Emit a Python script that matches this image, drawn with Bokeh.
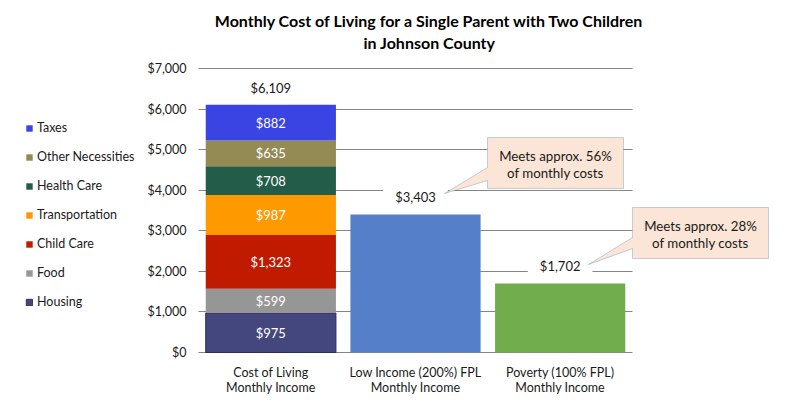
import numpy as np
from bokeh.plotting import figure
from bokeh.models import (ColumnDataSource, Range1d, NumeralTickFormatter, FixedTicker,
                          Legend, LegendItem, Label, PolyAnnotation)
from bokeh.core.properties import value
from bokeh.embed import file_html
from bokeh.resources import INLINE

# ---------------- data ----------------
categories = ["Cost of Living\nMonthly Income",
              "Low Income (200%) FPL\nMonthly Income",
              "Poverty (100% FPL)\nMonthly Income"]
cost_items = ["Housing", "Food", "Child Care", "Transportation",
              "Health Care", "Other Necessities", "Taxes"]
cost_values = [975, 599, 1323, 987, 708, 635, 882]
income_values = [3403, 1702]
callout_texts = [["Meets approx. 56%", "of monthly costs"],
                 ["Meets approx. 28%", "of monthly costs"]]
title_lines = ["Monthly Cost of Living for a Single Parent with Two Children",
               "in Johnson County"]
y_ticks = [0, 1000, 2000, 3000, 4000, 5000, 6000, 7000]

# ---------------- styles / layout ----------------
FONT = "Lato"
TXT = "#1a1a1a"
cost_colors = ["#44477D", "#969696", "#C01B00", "#FF9900", "#235C48", "#948A54", "#3A44E2"]
income_colors = ["#5580C9", "#72AD4D"]
GRID = "#868686"

W, H = 789, 408
CHART_L, CHART_R, CHART_T, CHART_B = 198, 632, 68, 352   # plotting area in page pixels
n = len(categories)
y_max = y_ticks[-1]
px_per_x = (CHART_R - CHART_L) / n
px_per_y = (CHART_B - CHART_T) / y_max


def dx(px):
    return (px - CHART_L) / px_per_x


def dy(py):
    return (CHART_B - py) / px_per_y


# frame covers the whole canvas; axes are pinned at the chart's edges
p = figure(x_range=Range1d(dx(0), dx(W)), y_range=Range1d(dy(H), dy(0)),
           width=W, height=H, output_backend="svg", toolbar_location=None,
           min_border=0)
p.outline_line_color = None
p.background_fill_color = "white"
p.border_fill_color = "white"

xpos = np.arange(n) + 0.5

# stacked cost bar
src = ColumnDataSource(dict(x=[xpos[0]], **{k: [v] for k, v in zip(cost_items, cost_values)}))
stack = p.vbar_stack(cost_items, x="x", width=0.9, source=src, fill_color=cost_colors,
                     line_color=cost_colors)
stack[0].glyph.line_color = "#2B2D5E"
for r in stack[1:]:
    r.glyph.line_color = None

# income bars
isrc = ColumnDataSource(dict(x=xpos[1:], top=income_values, color=income_colors))
p.vbar(x="x", top="top", width=0.9, fill_color="color", line_color=None, source=isrc)

# segment labels
vals = np.array(cost_values, dtype=float)
mids = np.cumsum(vals) - vals / 2
p.text(x=[xpos[0]] * len(cost_values), y=mids, text=[f"${v:,}" for v in cost_values],
       text_color="white", text_font=value(FONT), text_font_size="13px",
       text_align="center", text_baseline="middle")

# totals
totals = [sum(cost_values)] + income_values
p.text(x=xpos, y=totals, text=[f"${t:,}" for t in totals], y_offset=-17,
       text_color=TXT, text_font=value(FONT), text_font_size="13px",
       text_align="center", text_baseline="middle",
       background_fill_color="white",
       padding=dict(left=12, right=12, top=3, bottom=3))

# axes
p.yaxis.ticker = FixedTicker(ticks=y_ticks)
p.yaxis.formatter = NumeralTickFormatter(format="$0,0")
p.yaxis.fixed_location = 0
p.xaxis.ticker = FixedTicker(ticks=list(xpos))
p.xaxis.major_label_overrides = {float(x): c for x, c in zip(xpos, categories)}
p.xaxis.fixed_location = 0
for ax in (p.xaxis[0], p.yaxis[0]):
    ax.axis_line_color = None
    ax.major_tick_line_color = None
    ax.minor_tick_line_color = None
    ax.major_label_text_font = FONT
    ax.major_label_text_font_size = "12.5px"
    ax.major_label_text_color = TXT
p.yaxis.major_label_standoff = 6
p.xaxis.major_label_standoff = 6
p.xaxis.major_label_text_line_height = 1.0
p.xgrid.grid_line_color = None
p.ygrid.grid_line_color = GRID
p.ygrid.grid_line_width = 1
p.ygrid.cross_bounds = (0, n)

# legend
items = [LegendItem(label=name, renderers=[r]) for name, r in zip(cost_items, stack)][::-1]
legend = Legend(items=items, location=(25, 99), glyph_width=8, glyph_height=8,
                label_height=15, spacing=14, padding=0, margin=0, label_standoff=4,
                label_text_font=FONT, label_text_font_size="12.5px", label_text_color=TXT,
                background_fill_alpha=0, border_line_color=None)
p.add_layout(legend, "center")

# title
for txt, iy in zip(title_lines, [20, 42]):
    p.add_layout(Label(x=dx(429), y=dy(iy), text=txt, text_align="center",
                       text_baseline="middle", text_font=FONT, text_font_size="16px",
                       text_font_style="bold", text_color="black"))

# callouts
CALL_FILL = "#FBE5D6"
CALL_LINE = "#41719C"
callout_shapes = [
    [(487, 137), (623, 137), (623, 188), (487, 188), (487, 180), (444, 193), (487, 167)],
    [(632, 207), (768, 207), (768, 258), (632, 258), (632, 248), (588, 264), (632, 237)],
]
callout_text_pos = [(555, 155, 172), (700, 225, 242)]
for shape, lines, (cx, y1, y2) in zip(callout_shapes, callout_texts, callout_text_pos):
    p.add_layout(PolyAnnotation(xs=[dx(a) for a, b in shape], ys=[dy(b) for a, b in shape],
                                fill_color=CALL_FILL, fill_alpha=1, line_color=CALL_LINE,
                                line_width=1))
    for t, yy in zip(lines, (y1, y2)):
        p.add_layout(Label(x=dx(cx), y=dy(yy), text=t, text_align="center",
                           text_baseline="middle", text_font=FONT, text_font_size="13.3px",
                           text_color=TXT))

open("out.html", "w").write(file_html(p, INLINE))
